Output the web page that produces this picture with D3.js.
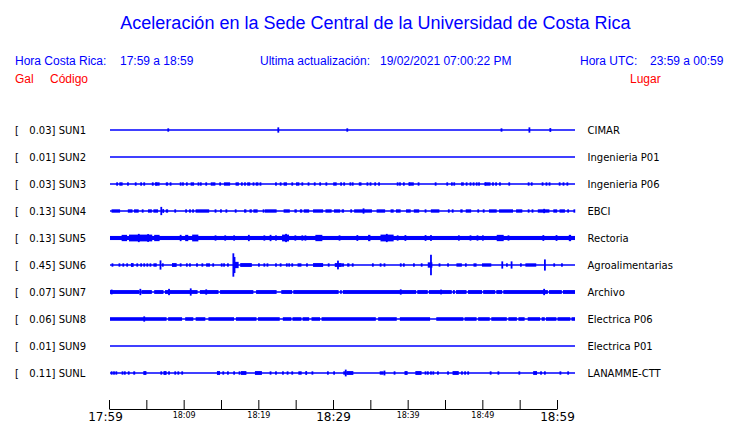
<!DOCTYPE html>
<html><head><meta charset="utf-8">
<script src="https://cdn.jsdelivr.net/npm/d3@7"></script>
<style>body{margin:0;background:#fff}svg{display:block}</style>
</head><body>
<svg id="c" width="740" height="423"></svg>
<script>
// ---------- data ----------
const title = "Aceleración en la Sede Central de la Universidad de Costa Rica";
const hdrLocalLabel = "Hora Costa Rica:";
const hdrLocalRange = "17:59 a 18:59";
const hdrUpdateLabel = "Ultima actualización:";
const hdrUpdateValue = "19/02/2021 07:00:22 PM";
const hdrUtcLabel = "Hora UTC:";
const hdrUtcRange = "23:59 a 00:59";
const colHeaders = ["Gal", "Código", "Lugar"];

const codes  = ["SUN1","SUN2","SUN3","SUN4","SUN5","SUN6","SUN7","SUN8","SUN9","SUNL"];
const peaks  = [0.03, 0.01, 0.03, 0.13, 0.13, 0.45, 0.07, 0.06, 0.01, 0.11];
const places = ["CIMAR","Ingenieria P01","Ingenieria P06","EBCI","Rectoria","Agroalimentarias","Archivo","Electrica P06","Electrica P01","LANAMME-CTT"];
// continuous background noise level (Gal, half amplitude)
const noise  = [0, 0, 0, 0, 0.055, 0, 0.05, 0.045, 0, 0];

// events: [minute from start, amplitude Gal, duration min (optional)]
const sun1Events = [[7.4,.04],[21.6,.08],[30.5,.04],[50.4,.04],[54.0,.08],[56.7,.05]];
const sun2Events = [];
const sun3Events = [[0.8,.04],[1.2,.04],[1.4,.04],[2.2,.04],[3.2,.04],[3.9,.04],[4.3,.04],[5.4,.04],[5.8,.04],[5.9,.04,.5],[7.2,.04,.3],[7.7,.04],[9.0,.04],[9.3,.04],[9.8,.04],[10.4,.04,.45],[11.3,.04],[11.6,.04],[12.3,.04],[13.0,.04],[13.2,.04,.4],[14.1,.04],[14.7,.04,.8],[16.2,.04],[16.4,.04],[16.9,.04],[17.3,.04],[17.7,.04,.4],[18.4,.04],[18.8,.04,.35],[19.3,.04],[21.3,.04],[21.9,.04],[22.4,.04],[22.6,.04],[23.4,.04],[24.0,.04],[24.2,.04],[24.7,.04],[25.5,.04],[26.3,.04],[27.0,.04],[27.8,.04],[28.8,.04,.45],[29.7,.04],[30.1,.04],[30.9,.04],[31.2,.04],[32.1,.04,.35],[33.1,.04],[33.5,.04],[34.1,.04],[34.6,.04],[37.0,.04],[37.3,.04],[37.8,.04],[38.5,.04],[38.6,.04,.6],[39.7,.04],[41.9,.04],[43.4,.04],[44.0,.04],[44.3,.04],[45.3,.04,.35],[45.9,.04],[46.4,.04],[46.8,.04],[47.2,.04],[47.5,.04],[48.3,.04],[48.4,.04,.7],[49.3,.04],[49.7,.04],[50.2,.04],[51.4,.04],[53.9,.04],[54.3,.04],[55.7,.04],[56.2,.04],[56.6,.04],[57.9,.04],[58.4,.04],[58.9,.04]];
const sun4Events = [[0.2,.04,1.1],[2.3,.04,.6],[3.1,.04,.6],[4.1,.04],[4.9,.04,.5],[5.6,.04,.6],[6.5,.14],[6.75,.05],[7.2,.04,.3],[8.3,.04],[9.7,.04],[10.2,.04],[10.6,.04],[11.05,.04,1.75],[13.5,.04],[14.2,.04],[14.9,.04],[16.1,.04],[17.3,.04,.3],[18.0,.04,.3],[18.5,.04,.55],[19.7,.04],[20.0,.04,1.5],[22.4,.04],[22.6,.04,.6],[23.8,.04,.3],[24.5,.04,.3],[25.0,.04,.7],[26.2,.04,1.3],[27.8,.04,.8],[28.9,.04,.8],[29.9,.04,.3],[31.0,.04],[31.5,.04,2.3],[32.6,.08],[34.4,.04,1.1],[36.2,.04,.4],[36.9,.04,.6],[38.2,.04,.6],[39.2,.04,.7],[40.6,.04],[41.4,.04,1.1],[43.6,.04],[44.1,.04],[45.2,.04,.3],[45.9,.04,.7],[47.4,.04],[48.1,.04],[48.9,.04,1.0],[50.2,.04,1.8],[52.4,.04,.8],[53.9,.04],[54.4,.04],[55.2,.04,1.5],[55.9,.06],[57.2,.04,.5],[58.0,.04,.7],[59.0,.04],[59.8,.04]];
const sun5Events = [[1.5,.1,.7],[2.45,.11,3.0],[3.6,.14],[4.8,.13],[5.7,.1,.7],[9.0,.1],[9.7,.1,.4],[10.6,.11,.8],[13.5,.08],[14.75,.08],[15.9,.08],[17.8,.1],[19.8,.08],[20.6,.1],[21.3,.08],[22.2,.11,.9],[22.6,.14],[23.8,.08],[24.7,.08],[25.1,.08],[26.5,.1,.9],[29.5,.08],[31.8,.09],[33.3,.1,.3],[34.9,.11,1.7],[35.6,.14],[37.0,.08],[38.0,.09],[40.6,.09],[41.3,.09],[44.9,.08],[46.4,.08],[47.3,.08],[48.0,.08],[49.9,.1,.9],[51.3,.08],[55.8,.09],[57.5,.09],[59.2,.1,.3]];
const sun6Events = [[0.2,.04],[1.1,.04],[1.6,.04],[2.1,.04],[2.7,.05,.35],[3.4,.04],[3.9,.04],[4.3,.04],[4.7,.04],[5.1,.04,.2],[5.6,.04],[5.8,.04],[6.4,.16],[6.7,.04],[8.0,.05,.6],[9.0,.04],[9.8,.04],[10.2,.04],[11.1,.04,.25],[11.8,.04],[12.4,.04,.5],[13.2,.04],[14.3,.04],[14.6,.04],[15.1,.04],[15.8,.45],[15.95,.3],[16.1,.1,.5],[16.8,.05,1.5],[19.1,.04],[19.8,.04],[20.2,.04],[21.3,.04],[21.9,.04],[22.7,.04],[23.0,.04],[23.4,.04],[24.2,.04,.5],[25.3,.04],[26.2,.05,1.3],[28.1,.04],[29.0,.05,.9],[29.3,.15],[29.9,.04,.3],[30.6,.04,.3],[31.2,.04,.2],[33.8,.04],[34.8,.04],[35.3,.04],[37.4,.04],[37.8,.04],[39.1,.04],[40.1,.04],[41.0,.08,.6],[41.3,.39],[42.4,.04],[43.5,.04],[44.7,.04,.7],[45.8,.04],[46.9,.04,.4],[48.0,.04,1.2],[50.5,.12],[51.1,.04],[51.7,.12],[52.9,.04],[53.6,.04,1.4],[56.0,.2],[57.2,.04],[58.2,.04]];
const sun7Events = [[0.1,.07],[3.8,.1],[7.5,.1],[10.3,.12],[12.3,.08],[37.4,.08],[42.6,.07],[55.9,.1]];
const sun8Events = [[4.3,.08]];
const sun9Events = [];
const sunlEvents = [[0.1,.04],[0.4,.04],[0.7,.04],[1.5,.04],[1.8,.04],[2.3,.04],[3.0,.04,.25],[4.3,.05,.4],[6.5,.04],[6.9,.05,.4],[7.5,.04],[8.3,.04],[8.7,.04],[9.2,.04],[13.8,.05,.4],[14.5,.04],[15.1,.04],[15.9,.04],[16.6,.04],[16.9,.05,.7],[18.7,.05,.9],[20.6,.04],[21.3,.04],[22.2,.04],[22.8,.04],[23.4,.04],[24.3,.04],[24.5,.04],[25.2,.05,.2],[26.0,.04],[28.0,.04],[28.8,.04],[30.1,.04],[30.3,.11],[30.5,.05,.9],[34.8,.04,.5],[35.3,.07],[36.6,.04],[38.0,.05,.4],[39.4,.05,.8],[40.6,.04],[40.9,.04],[41.3,.04],[41.6,.04],[42.2,.04],[43.5,.04],[44.2,.05,.8],[45.3,.04],[45.7,.04],[46.1,.04],[49.0,.04],[50.0,.04],[52.7,.04],[54.6,.05,.5],[55.5,.04],[56.0,.04],[58.0,.04],[59.0,.04]];
const events = [sun1Events,sun2Events,sun3Events,sun4Events,sun5Events,sun6Events,sun7Events,sun8Events,sun9Events,sunlEvents];

// quiet intervals inside the noise band: [minute, duration]
const sun7Quiet = [[3.8,.25],[5.4,.3],[6.9,.2],[11.3,.3],[14.0,.2],[18.5,.35],[21.5,.6],[23.5,.15],[29.5,.2],[29.9,.15],[39.5,.15],[41.0,.15],[44.1,.15],[44.5,.15],[46.0,.2],[48.0,.15],[49.7,.15],[50.6,.15],[56.5,.15],[58.3,.15]];
const sun8Quiet = [[7.3,.2],[9.3,.4],[10.75,.3],[12.3,.4],[16.0,.25],[18.9,.2],[21.9,.4],[23.4,.15],[24.7,.15],[25.7,.3],[27.1,.2],[34.3,.3],[37.0,.4],[41.3,.8],[45.6,.15],[47.3,.2],[49.0,.2],[51.2,.2],[52.5,.2],[53.5,.4],[55.5,.2],[56.1,.15],[57.6,.15],[59.4,.15]];
const quiet = [[],[],[],[],[],[],sun7Quiet,sun8Quiet,[],[]];

const axisTicks  = ["17:59","18:04","18:09","18:14","18:19","18:24","18:29","18:34","18:39","18:44","18:49","18:54","18:59"];
const axisLabels = ["17:59","18:09","18:19","18:29","18:39","18:49","18:59"];
const axisMajor  = ["17:59","18:29","18:59"];
const traceMinutes = [0, 60];

// ---------- drawing ----------
const svg = d3.select("#c");
const BLUE = "#0000ff", RED = "#ff0000";
const HFONT = "'Liberation Sans', Arial, Helvetica, sans-serif";
const LFONT = "'DejaVu Sans', sans-serif";

svg.append("text").attr("x", 375.5).attr("y", 29).attr("text-anchor","middle")
  .attr("font-family", HFONT).attr("font-size", 18).attr("fill", BLUE).text(title);

const hdr = [[15,hdrLocalLabel],[120,hdrLocalRange],[260,hdrUpdateLabel],[380,hdrUpdateValue],[580,hdrUtcLabel],[650,hdrUtcRange]];
svg.selectAll("text.hdr").data(hdr).join("text").attr("class","hdr")
  .attr("x", d => d[0]).attr("y", 65)
  .attr("font-family", HFONT).attr("font-size", 12).attr("fill", BLUE).text(d => d[1]);

const colX = [15, 50, 630];
svg.selectAll("text.col").data(colHeaders).join("text").attr("class","col")
  .attr("x", (d,i) => colX[i]).attr("y", 83)
  .attr("font-family", HFONT).attr("font-size", 12).attr("fill", RED).text(d => d);

const y = d3.scalePoint().domain(codes).range([130, 373]);
const tx = d3.scaleLinear().domain(traceMinutes).range([110, 575]);
const amp = d3.scaleLinear().domain([0, 0.45]).range([0, 11]);
const LW = 1.4;

const rows = svg.selectAll("g.row").data(codes).join("g").attr("class","row")
  .attr("transform", d => `translate(0,${y(d)})`);

rows.each(function(code, i){
  const g = d3.select(this);
  g.append("text").attr("x", 15).attr("y", 4).attr("font-family", LFONT).attr("font-size", 10).text("[");
  g.append("text").attr("x", 55.5).attr("y", 4).attr("text-anchor","end").attr("font-family", LFONT).attr("font-size", 10).text(peaks[i].toFixed(2) + "]");
  g.append("text").attr("x", 58.7).attr("y", 4).attr("font-family", LFONT).attr("font-size", 10).text(code);
  g.append("text").attr("x", 587.5).attr("y", 4).attr("font-family", LFONT).attr("font-size", 10).text(places[i]);

  const band = amp(noise[i]) + LW/2;
  if (noise[i] > 0) {
    g.append("rect").attr("x", tx(0)).attr("width", tx(60) - tx(0))
      .attr("y", -band).attr("height", 2*band).attr("fill", BLUE);
    g.selectAll("rect.q").data(quiet[i]).join("rect").attr("class","q")
      .attr("x", d => tx(d[0])).attr("width", d => tx(d[0]+d[1]) - tx(d[0]))
      .attr("y", -band - 0.5).attr("height", 2*band + 1).attr("fill", "#fff");
  }
  g.append("line").attr("x1", tx(0)).attr("x2", tx(60)).attr("y1", 0).attr("y2", 0)
    .attr("stroke", BLUE).attr("stroke-width", LW);
  g.selectAll("rect.ev").data(events[i]).join("rect").attr("class","ev")
    .attr("x", d => tx(d[0]))
    .attr("width", d => Math.max(1.8, tx(d[0] + (d[2] || 0)) - tx(d[0])))
    .attr("y", d => -(amp(d[1]) + LW/2))
    .attr("height", d => 2*(amp(d[1]) + LW/2))
    .attr("fill", BLUE);
});

// time axis
const parseT = d3.timeParse("%H:%M");
const fmtT = d3.timeFormat("%H:%M");
const tAxis = d3.scaleTime().domain([parseT(axisTicks[0]), parseT(axisTicks[axisTicks.length-1])]).range([109, 557]);
const ax = svg.append("g").attr("transform", "translate(0,409)")
  .call(d3.axisBottom(tAxis).tickValues(axisTicks.map(parseT))
    .tickSizeInner(-9).tickSizeOuter(0).tickPadding(3.5)
    .tickFormat(d => axisLabels.includes(fmtT(d)) ? fmtT(d) : ""));
ax.selectAll("path, line").attr("stroke", "#000");
ax.selectAll("text").attr("fill", "#000").attr("font-family", LFONT)
  .attr("font-size", d => axisMajor.includes(fmtT(d)) ? 12 : 8)
  .attr("dx", d => fmtT(d) === axisTicks[0] ? -4 : 0);
</script>
</body></html>
